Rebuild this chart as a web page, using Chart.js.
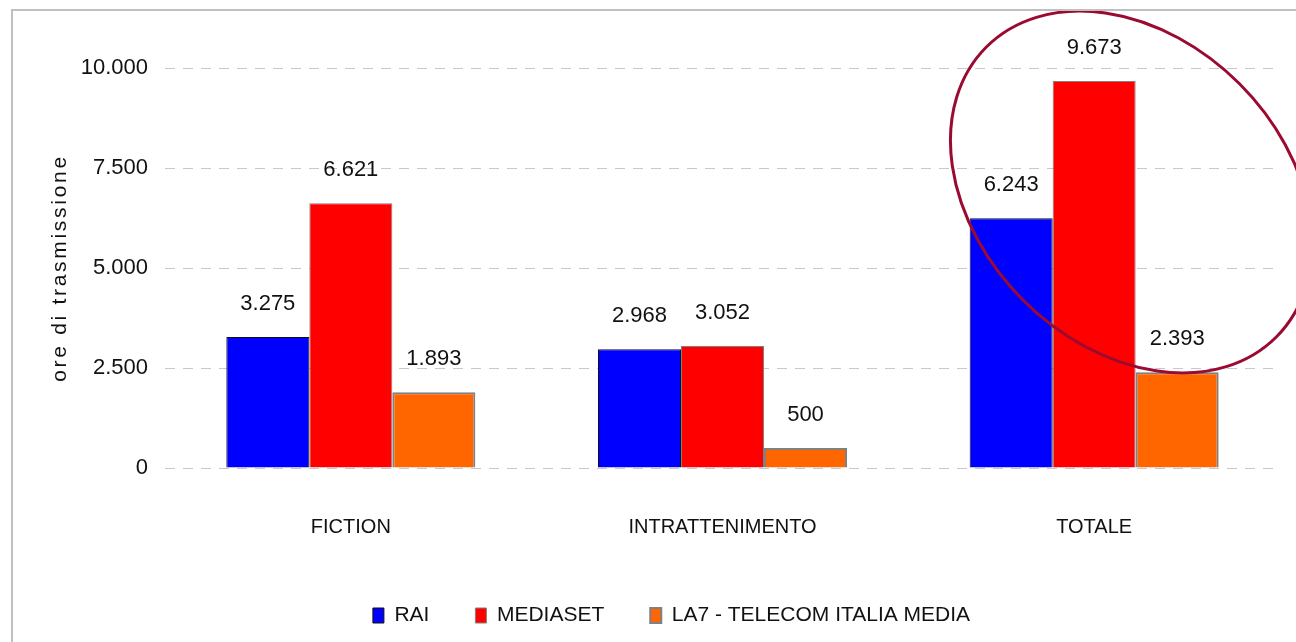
<!DOCTYPE html>
<html>
<head>
<meta charset="utf-8">
<script src="https://cdn.jsdelivr.net/npm/chart.js@4/dist/chart.umd.min.js"></script>
<style>
  html, body { margin: 0; padding: 0; background: #fff; overflow: hidden; }
  #frame { position: absolute; left: 11px; top: 9px; width: 1400px; height: 700px;
           border-left: 2px solid #c0c0c0; border-top: 2px solid #c0c0c0; }
  #wrap { position: absolute; left: 0; top: 0; width: 1317px; height: 631px; }
</style>
</head>
<body>
<div id="frame"><div id="wrap"><canvas id="tvChart"></canvas></div></div>
<script>
// data
const categories = ["FICTION", "INTRATTENIMENTO", "TOTALE"];
const rai = [3275, 2968, 6243];
const mediaset = [6621, 3052, 9673];
const la7 = [1893, 500, 2393];
const yTicks = [0, 2500, 5000, 7500, 10000];

// check if the narrow font is there, otherwise fall back on normal Liberation Sans
function hasFont(name) {
  const c = document.createElement("canvas").getContext("2d");
  c.font = "72px monospace";
  const a = c.measureText("FICTION 10.000").width;
  c.font = '72px "' + name + '", monospace';
  const b = c.measureText("FICTION 10.000").width;
  return a !== b;
}
const narrow = hasFont("Liberation Sans Narrow");
const family = narrow ? '"Liberation Sans Narrow", "Liberation Sans", Arial, sans-serif' : '"Liberation Sans", Arial, sans-serif';
const numSize = narrow ? 26 : 22;
const catSize = narrow ? 23 : 20;
const legSize = narrow ? 26 : 21;

const fmt = v => String(v).replace(/\B(?=(\d{3})+(?!\d))/g, ".");

// value labels over bars
const barLabels = {
  id: "barLabels",
  afterDatasetsDraw(chart) {
    const ctx = chart.ctx;
    ctx.save();
    ctx.font = numSize + "px " + family;
    ctx.fillStyle = "#111";
    ctx.textAlign = "center";
    ctx.textBaseline = "middle";
    chart.data.datasets.forEach((ds, i) => {
      chart.getDatasetMeta(i).data.forEach((bar, j) => {
        ctx.fillText(fmt(ds.data[j]), bar.x, bar.y - 33);
      });
    });
    ctx.restore();
  }
};

// legend sits a bit right of the canvas centre in the original
const legendShift = {
  id: "legendShift",
  afterLayout(chart) {
    chart.legend.left += 25;
    chart.legend.right += 25;
  }
};

// y title (letter spaced) + the red ellipse around TOTALE
const extras = {
  id: "extras",
  afterDraw(chart) {
    const ctx = chart.ctx;
    const area = chart.chartArea;
    ctx.save();
    ctx.translate(47, (area.top + area.bottom) / 2);
    ctx.rotate(-Math.PI / 2);
    ctx.font = '21px "Liberation Sans", Arial, sans-serif';
    ctx.letterSpacing = "2.7px";
    ctx.fillStyle = "#111";
    ctx.textAlign = "center";
    ctx.textBaseline = "middle";
    ctx.fillText("ore di trasmissione", 0, 0);
    ctx.restore();

    const x = chart.scales.x, y = chart.scales.y;
    const cx = x.getPixelForValue(2.1);
    const cy = y.getPixelForValue(6900);
    ctx.save();
    ctx.beginPath();
    ctx.ellipse(cx, cy, 205, 153, Math.PI / 4, 0, Math.PI * 2);
    ctx.strokeStyle = "#9b0a30";
    ctx.lineWidth = 3;
    ctx.stroke();
    ctx.restore();
  }
};

new Chart(document.getElementById("tvChart"), {
  type: "bar",
  data: {
    labels: categories,
    datasets: [
      { label: "RAI", data: rai, backgroundColor: "#0000ff", borderColor: "#111111", borderWidth: 1 },
      { label: "MEDIASET", data: mediaset, backgroundColor: "#ff0000", borderColor: "#808080", borderWidth: 1 },
      { label: "LA7 - TELECOM ITALIA MEDIA", data: la7, backgroundColor: "#ff6600", borderColor: "#808080", borderWidth: 2 }
    ]
  },
  options: {
    responsive: true,
    maintainAspectRatio: false,
    animation: false,
    categoryPercentage: 0.67,
    barPercentage: 1,
    layout: { padding: { top: 57, right: 50, left: 0, bottom: 6 } },
    plugins: {
      tooltip: { enabled: false },
      legend: {
        position: "bottom",
        maxHeight: 87,
        labels: {
          color: "#111",
          font: { family: family, size: legSize },
          boxWidth: 11,
          boxHeight: 15,
          padding: 46
        }
      }
    },
    scales: {
      x: {
        grid: { display: false, drawTicks: false },
        border: { display: false },
        ticks: { color: "#111", font: { family: family, size: catSize }, padding: 47, maxRotation: 0 },
        afterFit: s => { s.height = 91; }
      },
      y: {
        min: 0,
        max: 10000,
        afterBuildTicks: s => { s.ticks = yTicks.map(v => ({ value: v })); },
        grid: { color: "#c8c8c8", drawTicks: false },
        border: { display: false, dash: [10, 8] },
        ticks: { color: "#111", font: { family: family, size: numSize }, padding: 17, callback: v => fmt(v) },
        afterFit: s => { s.width = 152; }
      }
    }
  },
  plugins: [barLabels, legendShift, extras]
});
</script>
</body>
</html>
